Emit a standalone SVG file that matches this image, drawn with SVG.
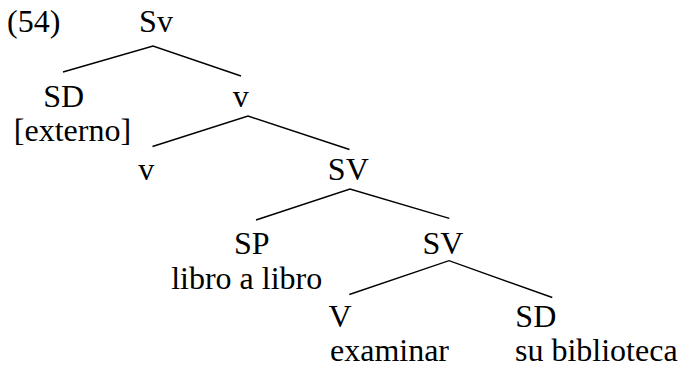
<svg xmlns="http://www.w3.org/2000/svg" width="681" height="368" viewBox="0 0 681 368">
<style>
.edge{stroke:#000;stroke-width:1.4;fill:none}
</style>
<rect width="681" height="368" fill="#fff"/>
<g font-family="Liberation Serif, Times New Roman, DejaVu Serif, serif" font-size="32" fill="#000" text-anchor="middle">
<text x="7" y="32" text-anchor="start">(54)</text>
<g id="n-Sv"><text x="156" y="32">Sv</text></g>
<g id="n-SD1"><text x="63.7" y="107">SD</text><text x="72.5" y="141">[externo]</text></g>
<g id="n-v1"><text x="240.7" y="107">v</text></g>
<g id="n-v2"><text x="146.3" y="180">v</text></g>
<g id="n-SV1"><text x="348.3" y="180">SV</text></g>
<g id="n-SP"><text x="251.7" y="254">SP</text><text x="246.7" y="289">libro a libro</text></g>
<g id="n-SV2"><text x="443" y="254">SV</text></g>
<g id="n-V"><text x="340" y="326.5">V</text><text x="389.5" y="361">examinar</text></g>
<g id="n-SD2"><text x="535.8" y="327">SD</text><text x="596.3" y="361">su biblioteca</text></g>
</g>
<g id="connectors">
<polyline class="edge" points="63,72 153,46 241,76"/>
<polyline class="edge" points="152.5,146.5 248,116 349.5,149.5"/>
<polyline class="edge" points="256,220 350,189 449.3,218.3"/>
<polyline class="edge" points="349.3,294.5 449,260.7 552.3,297.5"/>
</g>
</svg>
